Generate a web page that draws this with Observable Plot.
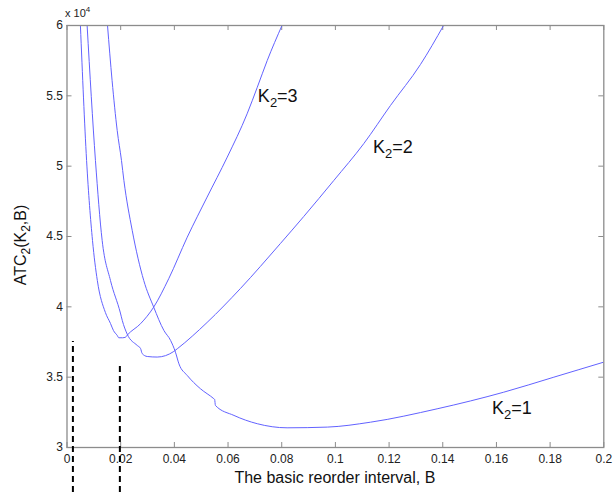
<!DOCTYPE html>
<html><head><meta charset="utf-8">
<script src="https://cdn.jsdelivr.net/npm/d3@7"></script>
<script src="https://cdn.jsdelivr.net/npm/@observablehq/plot@0.6"></script>
<style>body{margin:0;background:#fff} svg{display:block}</style>
</head><body><div id="chart"></div>
<script>
// Basic reorder interval B and ATC2 (in units of 10^4)
const k1B = [0.0151,0.0168,0.0187,0.0203,0.0212,0.0243,0.0286,0.0323,0.0361,0.0386,0.0404,0.0417,0.0448,0.0472,0.0497,0.0547,0.0550,0.0553,0.0622,0.0709,0.0820,0.0970,0.1131,0.1379,0.1627,0.1814,0.2000];
const k1Y = [6.000,5.609,5.254,5.040,4.898,4.543,4.187,3.998,3.832,3.761,3.678,3.595,3.512,3.462,3.418,3.347,3.342,3.299,3.228,3.169,3.140,3.145,3.180,3.275,3.393,3.500,3.607];
const k2B = [0.0075,0.0106,0.0131,0.0162,0.0199,0.0206,0.0224,0.0262,0.0274,0.0280,0.0299,0.0336,0.0398,0.0411,0.0522,0.0646,0.0795,0.0882,0.0994,0.1106,0.1205,0.1317,0.1403];
const k2Y = [6.000,5.040,4.472,4.187,3.956,3.903,3.807,3.725,3.704,3.668,3.647,3.643,3.683,3.702,3.889,4.130,4.450,4.642,4.898,5.161,5.431,5.723,6.000];
const k3B = [0.0050,0.0073,0.0095,0.0113,0.0143,0.0162,0.0173,0.0187,0.0193,0.0207,0.0218,0.0225,0.0274,0.0323,0.0379,0.0448,0.0522,0.0597,0.0671,0.0709,0.0746,0.0801];
const k3Y = [6.000,5.040,4.472,4.187,3.960,3.882,3.832,3.797,3.780,3.780,3.784,3.800,3.880,3.998,4.200,4.495,4.780,5.064,5.372,5.561,5.751,6.000];
const seriesNames = ["1","2","3"];
const xTicks = [0,0.02,0.04,0.06,0.08,0.1,0.12,0.14,0.16,0.18,0.2];
const yTicks = [3,3.5,4,4.5,5,5.5,6];
// annotation: label anchors (B, ATC2) and dashed markers
const labelB = [0.1585,0.1142,0.0713];
const labelY = [3.235,5.09,5.45];
const dashB = [0.0022,0.0197];
const dashTop = [3.754,3.583];
const dashBottom = [2.68,2.68];

const curves = [[k1B,k1Y],[k2B,k2Y],[k3B,k3Y]].flatMap(([bs,ys],i) =>
  bs.map((b,j) => ({K2: seriesNames[i], B: b, ATC: ys[j]})));
const labels = seriesNames.map((s,i) => ({K2: s, B: labelB[i], ATC: labelY[i]}));
const dashes = dashB.map((b,i) => ({B: b, top: dashTop[i], bottom: dashBottom[i]}));

const W = 613, H = 492, mT = 25, mB = 45, mL = 66.5, mR = 9.7;
const innerH = H - mT - mB, innerW = W - mL - mR;
const frameColor = "#8c8c8c";
const fmt = d => String(+d.toFixed(2));

const chart = Plot.plot({
  width: W, height: H,
  marginTop: mT, marginBottom: mB, marginLeft: mL, marginRight: mR,
  style: {fontFamily: "'Liberation Sans', Arial, sans-serif", fontSize: "12px", color: "#222", background: "#fff"},
  x: {domain: [0, 0.2]},
  y: {domain: [3, 6]},
  marks: [
    Plot.axisX({ticks: xTicks, tickSize: 0, tickPadding: 7, tickFormat: fmt, label: null, fontSize: 12}),
    Plot.axisY({ticks: yTicks, tickSize: 0, tickPadding: 4, tickFormat: fmt, label: null, fontSize: 12}),
    Plot.ruleX(xTicks, {x: d => d, stroke: frameColor, insetTop: innerH - 5}),
    Plot.ruleX(xTicks, {x: d => d, stroke: frameColor, insetBottom: innerH - 5}),
    Plot.ruleY(yTicks, {y: d => d, stroke: frameColor, insetRight: innerW - 5}),
    Plot.ruleY(yTicks, {y: d => d, stroke: frameColor, insetLeft: innerW - 5}),
    Plot.line(curves, {x: "B", y: "ATC", z: "K2", stroke: "#6262ff", strokeWidth: 1, curve: "monotone-x", clip: true}),
    Plot.frame({stroke: frameColor, strokeWidth: 1.3}),
    Plot.ruleX(dashes, {x: "B", y1: "bottom", y2: "top", stroke: "#000", strokeWidth: 2, strokeDasharray: "6,4", clip: false})
  ]
});
document.getElementById("chart").appendChild(chart);

const svg = d3.select(chart);
const sx = chart.scale("x"), sy = chart.scale("y");
const font = "'Liberation Sans', Arial, sans-serif";

// curve labels with subscripts
labels.forEach(l => {
  const t = svg.append("text")
    .attr("x", sx.apply(l.B)).attr("y", sy.apply(l.ATC))
    .attr("text-anchor", "start")
    .attr("font-family", font).attr("font-size", 18).attr("fill", "#111");
  t.append("tspan").text("K");
  t.append("tspan").attr("dy", 5).attr("font-size", 13).text("2");
  t.append("tspan").attr("dy", -5).text("=" + l.K2);
});

// x axis title
svg.append("text")
  .attr("x", mL + innerW / 2).attr("y", 483)
  .attr("text-anchor", "middle")
  .attr("font-family", font).attr("font-size", 16).attr("fill", "#111")
  .text("The basic reorder interval, B");

// y axis title
const yt = svg.append("text")
  .attr("transform", "translate(26,245) rotate(-90)")
  .attr("text-anchor", "middle")
  .attr("font-family", font).attr("font-size", 16).attr("fill", "#111");
yt.append("tspan").text("ATC");
yt.append("tspan").attr("dy", 4).attr("font-size", 12).text("2");
yt.append("tspan").attr("dy", -4).text("(K");
yt.append("tspan").attr("dy", 4).attr("font-size", 12).text("2");
yt.append("tspan").attr("dy", -4).text(",B)");

// exponent marker
const ex = svg.append("text")
  .attr("x", 65).attr("y", 17)
  .attr("text-anchor", "start")
  .attr("font-family", font).attr("font-size", 11).attr("fill", "#222");
ex.append("tspan").text("x 10");
ex.append("tspan").attr("dy", -5).attr("font-size", 8).text("4");
</script>
</body></html>
